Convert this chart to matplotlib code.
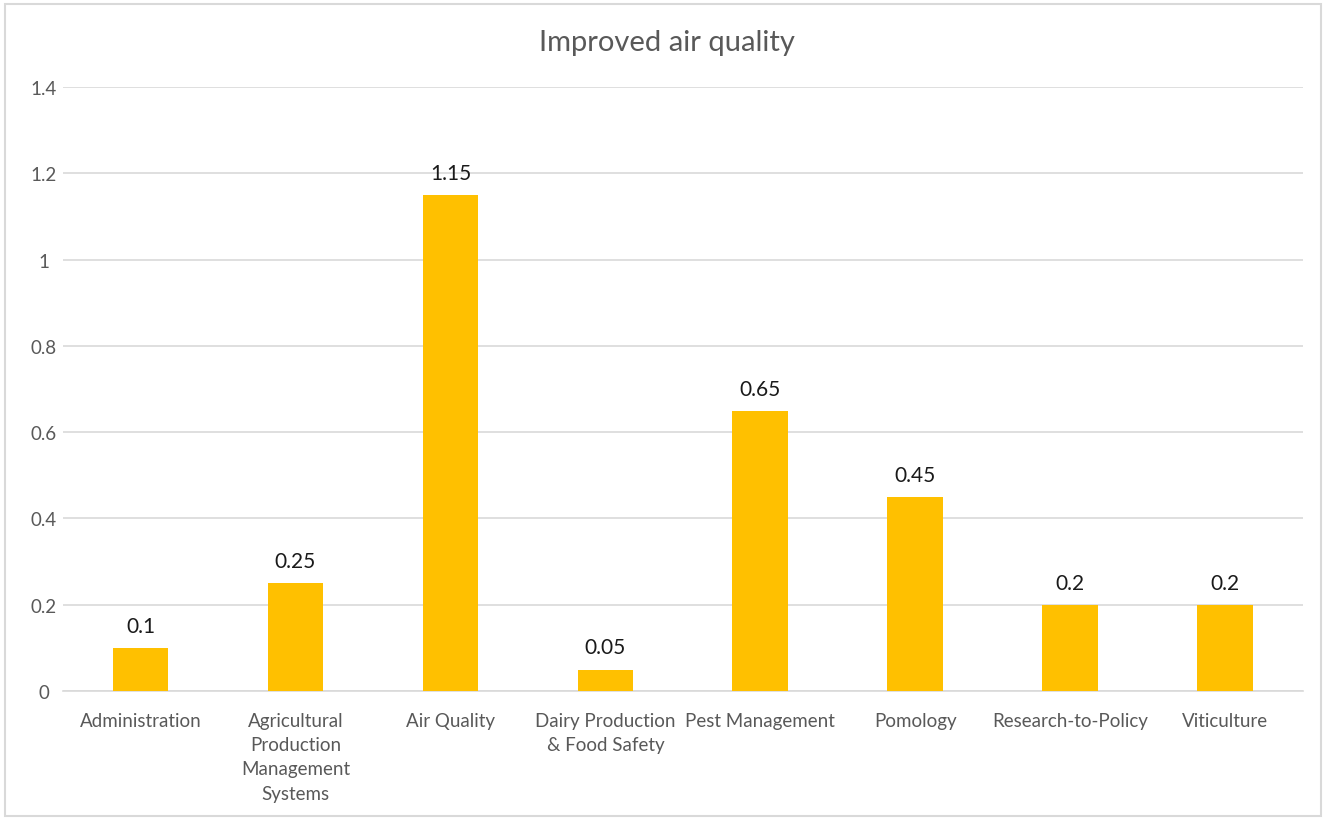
import matplotlib.pyplot as plt
from matplotlib.patches import Rectangle

categories = ["Administration", "Agricultural\nProduction\nManagement\nSystems", "Air Quality",
              "Dairy Production\n& Food Safety", "Pest Management", "Pomology",
              "Research-to-Policy", "Viticulture"]
values = [0.1, 0.25, 1.15, 0.05, 0.65, 0.45, 0.2, 0.2]
value_labels = ["0.1", "0.25", "1.15", "0.05", "0.65", "0.45", "0.2", "0.2"]
yticks = [0, 0.2, 0.4, 0.6, 0.8, 1, 1.2, 1.4]
ytick_labels = ["0", "0.2", "0.4", "0.6", "0.8", "1", "1.2", "1.4"]

plt.rcParams['font.family'] = ['Lato', 'DejaVu Sans']

fig = plt.figure(figsize=(13.26, 8.2), dpi=100)
ax = fig.add_axes([0.0475, 0.156, 0.935, 0.7367])

# light frame round the chart
fig.patches.append(Rectangle((0.004, 0.004), 0.992, 0.99, transform=fig.transFigure,
                             fill=False, edgecolor='#d9d9d9', linewidth=1.5))

x = range(len(categories))
bars = ax.bar(x, values, width=0.36, color='#ffc000', zorder=3)

for b, lab in zip(bars, value_labels):
    ax.text(b.get_x() + b.get_width() / 2, b.get_height() + 0.028, lab,
            ha='center', va='bottom', fontsize=15, color='#1a1a1a')

ax.set_xlim(-0.5, len(categories) - 0.5)
ax.set_ylim(0, 1.4)
ax.set_yticks(yticks)
ax.set_yticklabels(ytick_labels, fontsize=13.5, color='#595959')
ax.set_xticks(list(x))
ax.set_xticklabels(categories, fontsize=13.5, color='#595959', linespacing=1.52, va='top')
ax.tick_params(axis='both', length=0)
ax.tick_params(axis='x', pad=15)
ax.tick_params(axis='y', pad=14)
for lbl in ax.get_yticklabels():
    lbl.set_horizontalalignment('center')

ax.grid(axis='y', color='#d9d9d9', linewidth=1.2, zorder=0)
for s in ['top', 'right', 'left']:
    ax.spines[s].set_visible(False)
ax.spines['bottom'].set_color('#d9d9d9')
ax.spines['bottom'].set_linewidth(1.2)

fig.text(0.503, 0.947, "Improved air quality", ha='center', va='center', fontsize=21, color='#595959')

fig.savefig("out.png", dpi=100, facecolor='white')
